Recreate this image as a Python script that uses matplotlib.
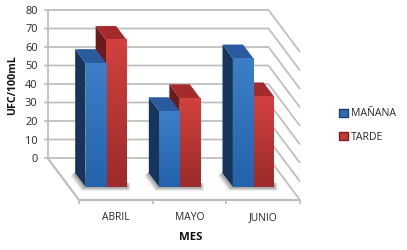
import numpy as np
import matplotlib
matplotlib.use('Agg')
import matplotlib.pyplot as plt
from matplotlib.patches import Patch, Polygon
from matplotlib.colors import LinearSegmentedColormap

plt.rcParams['font.family'] = ['Open Sans', 'DejaVu Sans']

meses = ['ABRIL', 'MAYO', 'JUNIO']
manana = [67, 41, 69.5]
tarde = [79.5, 48, 49]
y_ticks = [0, 10, 20, 30, 40, 50, 60, 70, 80]

W, H = 407, 250
CAT = 73.67   # px per category
UNIT = 1.85   # px per y unit
DX = -31.5 / CAT  # floor depth, in data units
DY = 42 / UNIT
BAR_W = 20.5 / CAT
D_FRONT = 0.31  # bar depth position, share of the floor depth
D_BACK = 0.64

GRID = '#bdbdbd'
TXT = '#262626'

fig = plt.figure(figsize=(W / 100, H / 100), dpi=100)
ax = fig.add_axes([0, 0, 1, 1])
# data x=0..3 is the front floor edge, y=0 is its height
ax.set_xlim(-79 / CAT, (W - 79) / CAT)
ax.set_ylim(-(H - 200) / UNIT, 200 / UNIT)
ax.axis('off')


def line(xs, ys, lw=1.25):
    ax.plot(xs, ys, color=GRID, lw=lw, solid_capstyle='butt', zorder=1)


# back wall and right side
for v in y_ticks:
    line([DX - 0.045, DX + 3, 3], [v + DY, v + DY, v])
line([DX, DX], [DY, 80 + DY])
# floor
line([DX, 0, 3], [DY, 0, 0], lw=1.5)
for i in range(4):
    line([i, i], [0, -2.2])


def gradient(x0, x1, y0, y1, top, bottom):
    cmap = LinearSegmentedColormap.from_list('g', [bottom, top])
    im = ax.imshow(np.linspace(1, 0, 64).reshape(-1, 1), cmap=cmap, aspect='auto',
                   extent=[x0, x1, y0, y1], zorder=4, interpolation='bilinear')
    return im


def shadow(x0, x1):
    # soft shadow lying on the floor, left of and below the bar
    bx = D_FRONT * DX
    by = D_FRONT * DY
    sx = D_BACK * DX
    sy = D_BACK * DY
    for k, a in zip([1.0, 0.7, 0.4], [0.14, 0.2, 0.26]):
        off = 0.06 * k
        ax.add_patch(Polygon([(x0 + bx - off, by - 2.0 * k), (x1 + bx + off * 0.8, by - 2.0 * k),
                              (x1 + bx + off * 0.8, by + 2), (x0 + sx + 0.01, sy + 1), (x0 + sx - off, sy - 1.5 * k)],
                             closed=True, fc='#555555', ec='none', alpha=a, zorder=2))


def bar3d(x0, v, front_top, front_bottom, side, top):
    x1 = x0 + BAR_W
    fx0 = x0 + D_FRONT * DX
    fx1 = x1 + D_FRONT * DX
    bx0 = x0 + D_BACK * DX
    bx1 = x1 + D_BACK * DX
    y0 = D_FRONT * DY
    y1 = D_BACK * DY
    ax.add_patch(Polygon([(bx0, y1), (fx0, y0), (fx0, y0 + v), (bx0, y1 + v)], fc=side, ec='none', zorder=4))
    ax.add_patch(Polygon([(bx0, y1 + v), (fx0, y0 + v), (fx1, y0 + v), (bx1, y1 + v)], fc=top, ec='none', zorder=4))
    gradient(fx0, fx1, y0, y0 + v, front_top, front_bottom)


for i in range(len(meses)):
    left = i + 0.5 - BAR_W
    shadow(left, left + 2 * BAR_W)
    # red first, the blue front hides the red side
    bar3d(left + BAR_W, tarde[i], '#d2413d', '#9c2b2a', '#6b1b1c', '#a52a2b')
    bar3d(left, manana[i], '#3c7fc8', '#2363ab', '#17355a', '#2a5b9e')

ax.set_xlim(-79 / CAT, (W - 79) / CAT)
ax.set_ylim(-(H - 200) / UNIT, 200 / UNIT)

for v in y_ticks:
    ax.text(DX - 0.135, v + DY, str(v), ha='right', va='center_baseline', fontsize=7.9, color=TXT)
for i, m in enumerate(meses):
    ax.text(i + 0.5, -8.8, m, ha='center', va='center_baseline', fontsize=7.4, color=TXT)

ax.text(1.52, -19.2, 'MES', ha='center', va='center_baseline', fontsize=8.2, fontweight='bold', color='#111111')
ax.text(-0.895, 62, 'UFC/100mL', ha='center', va='center', rotation=90, fontsize=7.7,
        fontweight='bold', color='#111111')

handles = [Patch(facecolor='#2c6cb5', edgecolor='#1d3f6b', label='MAÑANA'),
           Patch(facecolor='#c5383a', edgecolor='#7a1f20', label='TARDE')]
ax.legend(handles=handles, loc='center left', bbox_to_anchor=(330.5 / W, 1 - 125.5 / H), frameon=False,
          fontsize=7.6, handlelength=0.85, handleheight=0.85, handletextpad=0.3, labelspacing=1.15,
          labelcolor=TXT, borderpad=0.3)

fig.savefig('out.png', dpi=100)
